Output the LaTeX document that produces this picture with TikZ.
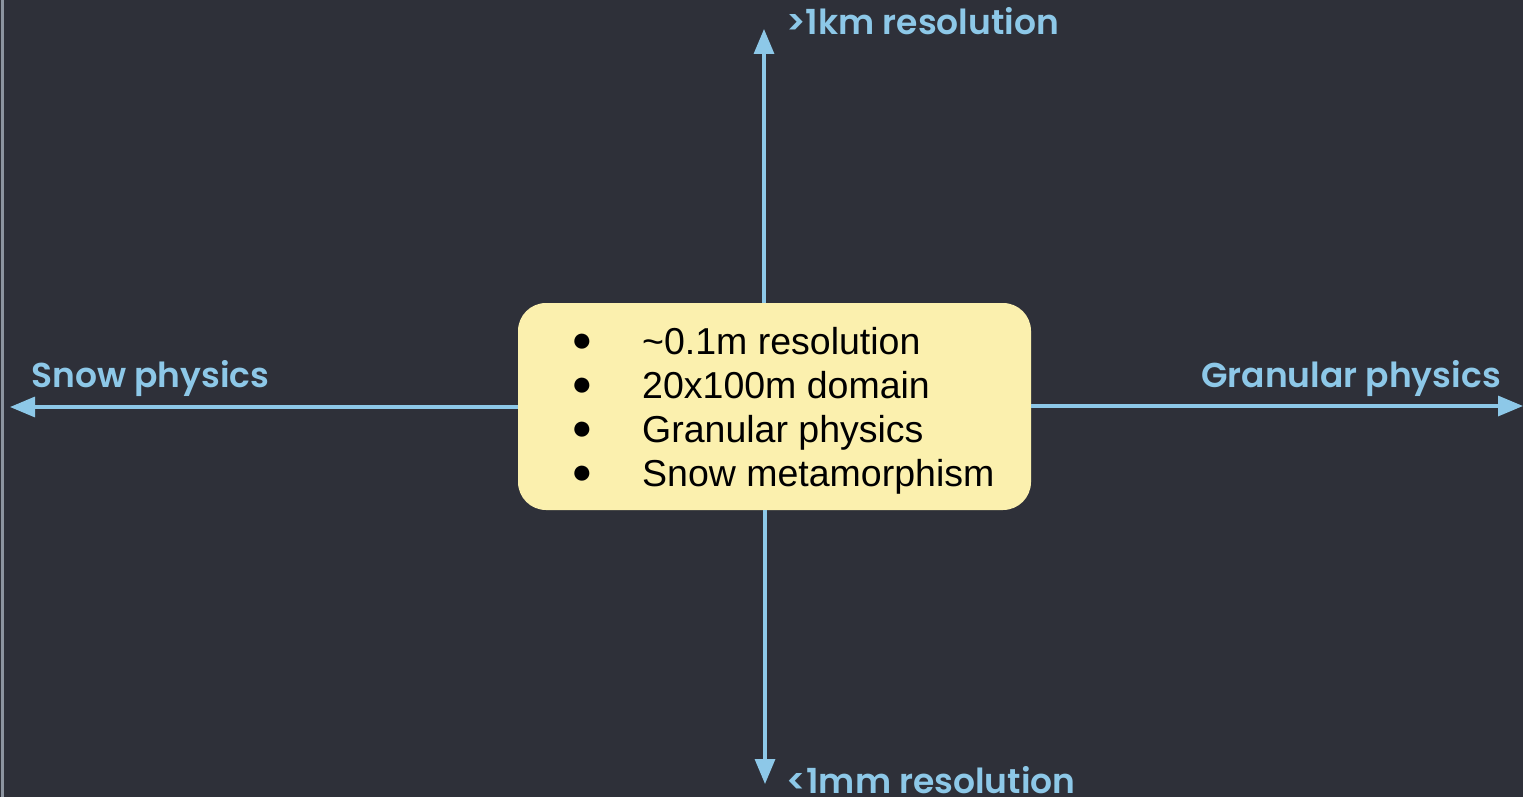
\documentclass[tikz,border=0pt]{standalone}
\usepackage{fontspec}
\setmainfont{Liberation Sans}
\newfontfamily\labfont{Poppins}[UprightFont={* SemiBold}]
\usetikzlibrary{arrows.meta}
\definecolor{bg}{HTML}{2E3039}
\definecolor{axisblue}{HTML}{8DC8E8}
\definecolor{boxfill}{HTML}{FBF0AE}
\definecolor{edgegray}{HTML}{8C94A0}
\tikzset{
  axis/.style={draw=axisblue, line width=3.2pt, -{Triangle[length=25pt,width=20pt]}},
  box/.style={fill=boxfill, rounded corners=28pt, minimum width=513pt, minimum height=207pt, inner sep=0pt},
  item/.style={text=black, inner sep=0pt, font=\fontsize{37.5}{44}\selectfont},
  bul/.style={text=black, inner sep=0pt, font=\fontsize{35}{35}\selectfont},
  axlabel/.style={text=axisblue, inner sep=0pt, font=\labfont\fontsize{34.5}{40}\selectfont},
}
\begin{document}
\begin{tikzpicture}[x=1pt,y=-1pt]
\fill[bg] (0,0) rectangle (1523,797);
\useasboundingbox (0,0) rectangle (1523,797);
\draw[edgegray, line width=2.6pt] (2.4,0) -- (2.4,797);
\node[box] (box) at (774.5,406.5) {};
\coordinate (top) at (764,29);
\coordinate (bot) at (765,784);
\coordinate (lft) at (10,407);
\coordinate (rgt) at (1523,406);
\draw[axis] (box.north -| top) -- (top);
\draw[axis] (box.south -| bot) -- (bot);
\draw[axis] (box.west |- lft) -- (lft);
\draw[axis] (box.east |- rgt) -- (rgt);
\node[axlabel, anchor=base west] (ltop) at (786,35) {>1km resolution};
\node[axlabel, anchor=base west] (lbot) at (786,793) {<1mm resolution};
\node[axlabel, anchor=base west] (llft) at (31,387) {Snow physics};
\node[axlabel, anchor=base east] (lrgt) at (1501,387) {Granular physics};
\foreach \i/\t in {1/\textasciitilde 0.1m resolution, 2/20x100m domain, 3/Granular physics, 4/Snow metamorphism}{
  \node[bul] (b\i) at (582,{343+44*(\i-1)}) {●};
  \node[item, anchor=base west] (t\i) at (642,{354+44*(\i-1)}) {\t};
}
\end{tikzpicture}
\end{document}
